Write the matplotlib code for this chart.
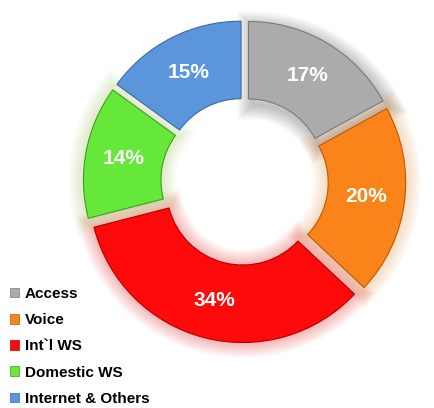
import matplotlib.pyplot as plt
import matplotlib.patheffects as pe
from matplotlib.patches import Patch

plt.rcParams['font.family'] = ['Liberation Sans', 'DejaVu Sans']

labels = ["Access", "Voice", "Int`l WS", "Domestic WS", "Internet & Others"]
shares = [17, 20, 34, 14, 15]
colors = ["#ABABAB", "#FA8419", "#FF0A0A", "#66E83A", "#5B95DB"]
edges = ["#7A7A7A", "#B85A0A", "#B00000", "#3E9E1E", "#3A6AA8"]
glows = ["#404040", "#F09A40", "#E02020", "#A8D060", "#FFFFFF"]

fig = plt.figure(figsize=(4.34, 4.08), dpi=100)
ax = fig.add_axes([0.1527, 0.118, 0.8215, 0.874])

pie_kw = dict(startangle=90, counterclock=False,
              explode=[0.05] * len(shares), radius=0.99)

# soft glow behind the ring
glow_wedges, _ = ax.pie(shares, colors=glows,
                        wedgeprops=dict(width=0.5, edgecolor="none", zorder=1),
                        **pie_kw)
for w, g in zip(glow_wedges, glows):
    if g == "#FFFFFF":
        w.set_visible(False)
        continue
    off = (3, -4) if g == "#404040" else (0, 0)
    w.set_edgecolor(g)
    w.set_facecolor("none")
    w.set_path_effects([pe.Stroke(offset=off, linewidth=lw, foreground=g, alpha=0.03)
                        for lw in range(22, 1, -2)])

wedges, texts, autotexts = ax.pie(
    shares, colors=colors,
    wedgeprops=dict(width=0.5, linewidth=0.8, zorder=3),
    autopct="%d%%", pctdistance=0.75,
    textprops=dict(color="white", fontsize=15, fontweight="bold", zorder=4),
    **pie_kw)
for w, e in zip(wedges, edges):
    w.set_edgecolor(e)

ax.set_xlim(-1.15, 1.15)
ax.set_ylim(-1.15, 1.15)
ax.set_aspect("equal")
ax.axis("off")

handles = [Patch(facecolor=c, edgecolor=e, linewidth=0.5) for c, e in zip(colors, edges)]
fig.legend(handles, labels, loc="upper left",
           bbox_to_anchor=(10 / 434, 1 - 287 / 408),
           frameon=False, borderpad=0, borderaxespad=0,
           handlelength=0.6, handleheight=0.6, handletextpad=0.35,
           labelspacing=0.8,
           prop=dict(size=11, weight="bold"))

fig.savefig("out.png", dpi=100)
